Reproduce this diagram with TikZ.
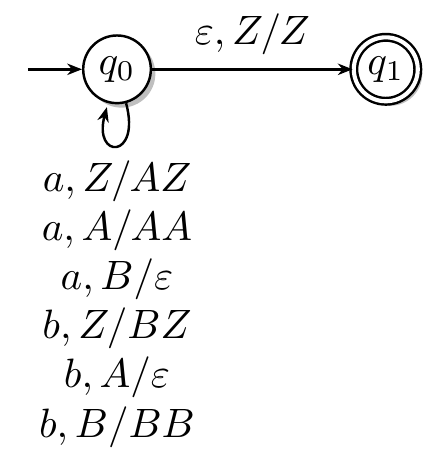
\documentclass[tikz,border=0pt]{standalone}
\usepackage{amsmath}
\usepackage{amssymb}
\usetikzlibrary{positioning,quotes,shadows,arrows.meta}

\begin{document}
\begin{tikzpicture}[semithick,>={Stealth[length=3.6pt,width=2.8pt]},
  qstate/.style={draw,circle,fill=white,inner sep=0pt,minimum size=16.5pt,
    drop shadow={shadow xshift=1.1pt,shadow yshift=-1.1pt,opacity=0.5}},
  qaccept/.style={qstate,double,double distance=1pt,minimum size=15.6pt}]

  \useasboundingbox (0,0) rectangle (103.9pt,-115.6pt);

  \node[qstate] (q0) at (28.54pt,-16.9pt) {$q_0$};
  \node[qaccept,right=48.9pt of q0] (q1) {$q_1$};

  \coordinate[left=13.2pt of q0] (start);

  % initial arrow
  \draw[->] (start) -- (q0);

  \draw[->] (q0) edge["{$\varepsilon, Z/Z$}"] (q1)
  (q0) edge[loop below] node[below,align=center] {$a,Z/AZ$\\
    $a,A/AA$\\
    $a,B/\varepsilon$\\
    $b,Z/BZ$\\
    $b,A/\varepsilon$\\
    $b,B/BB$} (q0);

\end{tikzpicture}
\end{document}
